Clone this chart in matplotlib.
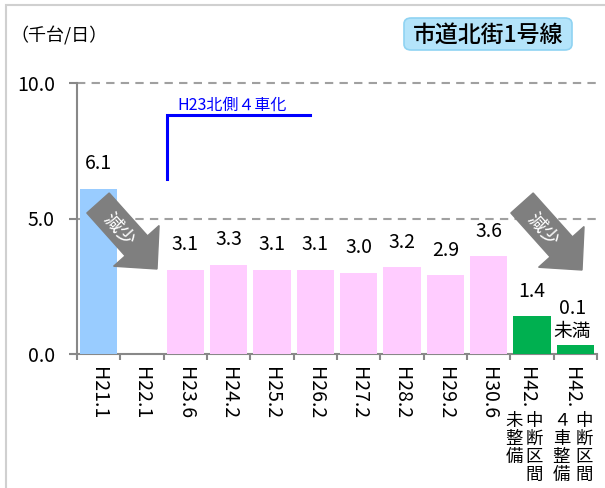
import matplotlib
matplotlib.use("Agg")
import matplotlib.pyplot as plt
import matplotlib.patches as mpatches
import numpy as np

plt.rcParams['font.family'] = ['Noto Sans CJK JP', 'DejaVu Sans']

# === Data ===
categories = ["H21.1", "H22.1", "H23.6", "H24.2", "H25.2", "H26.2",
              "H27.2", "H28.2", "H29.2", "H30.6", "H42.", "H42."]
values = [6.1, 0.0, 3.1, 3.3, 3.1, 3.1, 3.0, 3.2, 2.9, 3.6, 1.4, 0.35]
value_labels = ["6.1", "", "3.1", "3.3", "3.1", "3.1", "3.0", "3.2", "2.9",
                "3.6", "1.4", "0.1\n未満"]
bar_colors = ["#99ccff", "#99ccff"] + ["#ffccff"] * 8 + ["#00b050", "#00b050"]
# vertical (tategaki) sub labels for the H42 columns: (text, x offset px)
sub_labels = {10: [("中断区間", 2), ("未整備", -18)],
              11: [("中断区間", 9), ("４車整備", -14)]}
yticks = [0, 5, 10]
ytick_labels = ["0.0", "5.0", "10.0"]

W, H = 605, 488
fig = plt.figure(figsize=(W / 100, H / 100), dpi=100)
ax = fig.add_axes([77 / W, 1 - 354 / H, 520 / W, 271 / H])

x = np.arange(len(categories))
ax.bar(x, values, width=0.86, color=bar_colors, zorder=3)
ax.set_xlim(-0.5, len(categories) - 0.5)
ax.set_ylim(0, 10)

# axes styling
for s in ["top", "right"]:
    ax.spines[s].set_visible(False)
for s in ["left", "bottom"]:
    ax.spines[s].set_color("#888888")
    ax.spines[s].set_linewidth(1.5)
ax.set_yticks(yticks)
ax.set_yticklabels(ytick_labels, fontsize=14)
ax.tick_params(axis="y", length=6, width=1.5, color="#888888", pad=10)
ax.set_xticks(x)
ax.set_xticklabels([])
ax.tick_params(axis="x", which="major", length=0)
ax.set_xticks(np.arange(-0.5, len(categories)), minor=True)
ax.tick_params(axis="x", which="minor", length=4.5, width=1.5, color="#888888")
for yv in [5, 10]:
    ax.axhline(yv, color="#a0a0a0", lw=1.5, ls=(0, (4, 3)), zorder=1, clip_on=False)

px = 0.72  # pixels -> points

# value labels
for i, (v, lab) in enumerate(zip(values, value_labels)):
    if not lab:
        continue
    lines = lab.split("\n")
    if len(lines) == 1:
        ax.annotate(lab, (i, v), xytext=(0, 25 * px), textcoords="offset points",
                    ha="center", va="center", fontsize=14, clip_on=False)
    else:
        for k, ln in enumerate(reversed(lines)):
            ax.annotate(ln, (i, v), xytext=(-3 * px, (13 + 23 * k) * px),
                        textcoords="offset points", ha="center", va="center",
                        fontsize=14 if k else 13.5)

# category labels (rotated) + vertical Japanese text
for i, cat in enumerate(categories):
    dx = 0 if i not in sub_labels else (-5 if i == 10 else -4)
    ax.annotate(cat, (i, 0), xycoords=("data", "axes fraction"),
                xytext=(dx * px, -13 * px), textcoords="offset points",
                rotation=270, ha="center", va="top", fontsize=14)
    for txt, cdx in sub_labels.get(i, []):
        for k, ch in enumerate(txt):
            ax.annotate(ch, (i, 0), xycoords=("data", "axes fraction"),
                        xytext=(cdx * px, -(58 + 18 * k) * px), textcoords="offset points",
                        ha="center", va="top", fontsize=12.5)

# H23 annotation
ax.plot([1.577, 1.577, 4.877], [6.46, 8.82, 8.82], color="#0000ff", lw=2.2,
        solid_joinstyle="miter", zorder=4, clip_on=False)
ax.text(1.81, 9.19, "H23北側４車化", color="#0000ff", fontsize=11.5,
        ha="left", va="center")


# block arrows with "減少", drawn in pixel space
def to_fig(p):
    return (p[0] / W, 1 - p[1] / H)


def block_arrow(tail, tip, body_w, head_w, head_len):
    tail = np.array(tail, float)
    tip = np.array(tip, float)
    d = tip - tail
    d /= np.linalg.norm(d)
    n = np.array([-d[1], d[0]])
    base = tip - d * head_len
    pts = [tail + n * body_w / 2, base + n * body_w / 2, base + n * head_w / 2, tip,
           base - n * head_w / 2, base - n * body_w / 2, tail - n * body_w / 2]
    poly = mpatches.Polygon([to_fig(p) for p in pts], closed=True,
                            transform=fig.transFigure, color="#7f7f7f", zorder=5)
    fig.patches.append(poly)


for tail, tip, tc in [((98, 203), (157, 269), (118, 230)),
                      ((522, 203), (582, 270), (542, 230))]:
    block_arrow(tail, tip, 30, 61, 31)
    fig.text(*to_fig(tc), "減少", color="white", fontsize=13.5, rotation=-48,
             ha="center", va="center", zorder=6)

# title box
box = mpatches.FancyBboxPatch((404 / W, 1 - 50 / H), 168 / W, 32 / H,
                              boxstyle="round,pad=0,rounding_size=0.012",
                              transform=fig.transFigure, facecolor="#b4e4fa",
                              edgecolor="#8fd3f2", lw=1.2)
fig.patches.append(box)
fig.text(488 / W, 1 - 35 / H, "市道北街1号線", fontsize=16.5, ha="center", va="center",
         fontweight="medium")

# unit label
fig.text(10 / W, 1 - 36 / H, "（千台/日）", fontsize=13, ha="left", va="center")

# outer frame
frame = mpatches.Rectangle((6 / W, -0.1), 1.2, 1 - 5 / H + 0.1, transform=fig.transFigure,
                           fill=False, edgecolor="#d0d0d0", lw=1.5)
fig.patches.append(frame)

fig.savefig("out.png", dpi=100)
